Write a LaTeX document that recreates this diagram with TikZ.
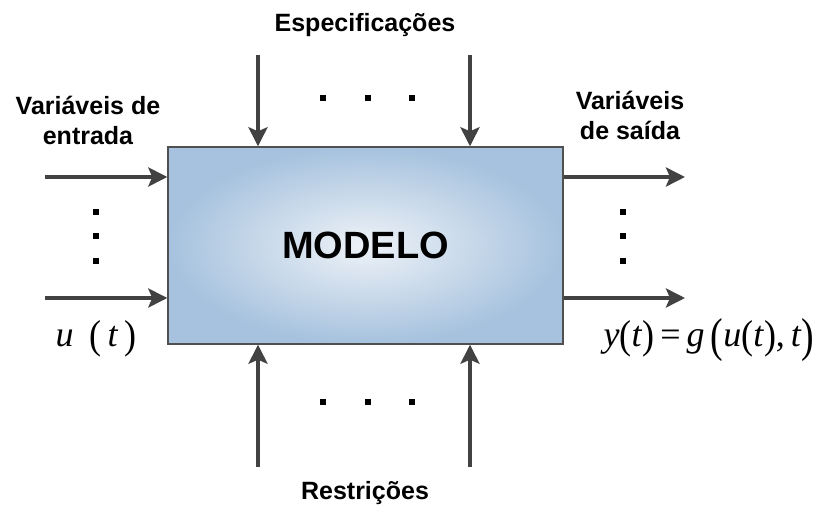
\documentclass[tikz,border=0pt]{standalone}
\usepackage{fontspec}
\usepackage{graphicx}
\setmainfont{Liberation Sans}
\newfontfamily\tmr{Liberation Serif}
\usetikzlibrary{arrows.meta}
\definecolor{arrgray}{HTML}{424242}
\definecolor{boxedge}{HTML}{505050}
\definecolor{boxout}{HTML}{A6C2DE}
\definecolor{boxin}{HTML}{EEF2F7}
\tikzset{
  arr/.style={draw=arrgray, line width=3.8pt, -{Stealth[length=19pt,width=19pt,inset=4pt]}},
  lbl/.style={font=\fontsize{25}{30}\selectfont\bfseries, align=center, inner sep=0pt},
  dotsq/.style={fill=black, minimum size=6pt, inner sep=0pt},
  mth/.style={font=\fontsize{36}{40}\tmr, inner sep=0pt, anchor=base}
}
\newcommand{\tpar}[1]{\raisebox{-0.05em}{\scalebox{1}[1.12]{#1}}}
\newcommand{\bigpar}[1]{\raisebox{-0.12em}{\scalebox{1.05}[1.32]{#1}}}
\begin{document}
\begin{tikzpicture}[x=1pt,y=-1pt]
\useasboundingbox (0,0) rectangle (831,510);
\node[draw=boxedge, line width=1.4pt, inner color=boxin, outer color=boxout,
      minimum width=395pt, minimum height=197pt, font=\fontsize{38}{40}\selectfont\bfseries]
      (m) at (365.5,245.5) {MODELO};
% input arrows
\coordinate (i1) at (45,177);
\coordinate (i2) at (45,298);
\draw[arr] (i1) -- (i1 -| m.west);
\draw[arr] (i2) -- (i2 -| m.west);
% output arrows
\coordinate (o1) at (685,177);
\coordinate (o2) at (685,298);
\draw[arr] (o1 -| m.east) -- (o1);
\draw[arr] (o2 -| m.east) -- (o2);
% top arrows
\coordinate (t1) at (258,55);
\coordinate (t2) at (470,55);
\draw[arr] (t1) -- (t1 |- m.north);
\draw[arr] (t2) -- (t2 |- m.north);
% bottom arrows
\coordinate (b1) at (258,467);
\coordinate (b2) at (470,467);
\draw[arr] (b1) -- (b1 |- m.south);
\draw[arr] (b2) -- (b2 |- m.south);
% dots
\foreach \i/\x in {1/323,2/368,3/412}{
  \node[dotsq] (td\i) at (\x,98) {};
  \node[dotsq] (bd\i) at (\x,402) {};
}
\foreach \i/\y in {1/212,2/236,3/261}{
  \node[dotsq] (ld\i) at (96,\y) {};
  \node[dotsq] (rd\i) at (623,\y) {};
}
% labels
\node[lbl] (spec) at (365,25) {Especificações};
\node[lbl] (restr) at (365,493) {Restrições};
\node[lbl] (vin) at (88,120) {Variáveis de\\entrada};
\node[lbl] (vout) at (630,115) {Variáveis\\de saída};
\node[mth] (u) at (96,347) {\textit{u}\;\,\tpar{(}\,\textit{t}\,\tpar{)}};
\node[mth] (y) at (709,347) {\textit{y}\tpar{(}\textit{t}\tpar{)}\,=\,\textit{g}\,\bigpar{(}\textit{u}\tpar{(}\textit{t}\tpar{)},\,\textit{t}\bigpar{)}};
\end{tikzpicture}
\end{document}
